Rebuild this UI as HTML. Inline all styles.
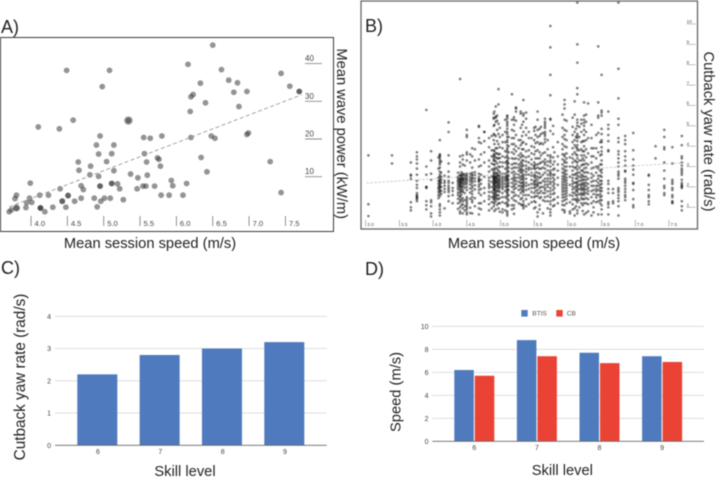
<!DOCTYPE html>
<html lang="en">
<head>
<meta charset="utf-8">
<title>Surf performance charts</title>
<style>
html,body{margin:0;padding:0;background:#fff;width:717px;height:477px;overflow:hidden}
svg{display:block;font-family:"Liberation Sans",sans-serif;filter:blur(0.4px)}
.t{fill:#222;font-size:14.7px}
.p{fill:#222;font-size:18px}
</style>
</head>
<body>
<svg id="fig" xmlns="http://www.w3.org/2000/svg" width="717" height="477" viewBox="0 0 717 477">
  <g id="panelA"></g>
  <g id="panelB"></g>
  <g id="panelC"></g>
  <g id="panelD"></g>
  <rect x="0.5" y="37.5" width="333" height="194" fill="none" stroke="#3a3a3a" stroke-width="1"/>
  <rect x="361" y="1" width="336.5" height="228" fill="none" stroke="#666" stroke-width="1.3"/>
  <text class="p" x="1" y="33">A)</text>
  <text class="p" x="365" y="32">B)</text>
  <text class="p" x="1" y="274">C)</text>
  <text class="p" x="365" y="275">D)</text>
  <text class="t" x="150" y="248" text-anchor="middle">Mean session speed (m/s)</text>
  <text class="t" transform="translate(337 133.7) rotate(90)" text-anchor="middle">Mean wave power (kW/m)</text>
  <text class="t" x="534" y="248" text-anchor="middle">Mean session speed (m/s)</text>
  <text class="t" transform="translate(704 131.5) rotate(90)" text-anchor="middle">Cutback yaw rate (rad/s)</text>
  <text class="t" x="185" y="476" text-anchor="middle">Skill level</text>
  <text class="t" transform="translate(25 377) rotate(-90)" text-anchor="middle" style="font-size:15.3px">Cutback yaw rate (rad/s)</text>
  <text class="t" x="562.3" y="475" text-anchor="middle">Skill level</text>
  <text class="t" transform="translate(400.5 392) rotate(-90)" text-anchor="middle">Speed (m/s)</text>
  <rect x="521.3" y="310" width="6.4" height="6.6" fill="#4f7abd"/>
  <text x="532.3" y="315.7" font-size="6.6" fill="#555">BTIS</text>
  <rect x="556.3" y="310" width="6.4" height="6.6" fill="#ea4335"/>
  <text x="566.7" y="315.7" font-size="6.6" fill="#555">CB</text>
</svg>
<script>
/* ---------- Panel A data ---------- */
var aSpeed = [6.5,6.16,4.49,5.08,6.62,7.44,6.72,6.84,6.33,4.98,7.56,7.69,7.69,6.97,6.79,6.23,6.2,6.4,6.86,6.19,4.58,5.34,4.1,4.39,6.99,6.97,6.48,6.53,6.2,5.8,5.55,5.64,4.95,4.9,5.14,4.93,5.11,5.56,5.74,5.76,6.34,7.29,4.65,5.04,5.59,4.82,5.78,4.66,5.14,6.42,4.81,4.93,5.37,5.6,5.47,5.93,3.99,6.14,5.11,5.11,5.19,5.95,4.95,4.95,4.69,5.54,5.58,5.7,4.4,4.72,5.22,5.46,7.44,3.8,4.12,4.24,4.51,4.51,5.79,5.9,6.09,3.78,3.98,4.69,4.87,5.01,5.09,5.27,4.43,4.43,4.6,4.96,3.94,4.01,4.91,4.3,4.48,3.93,3.8,4.13,4.13,4.13,3.73,3.7,4.19];
var aPower = [44.9,39.8,38.2,38.2,38.4,37.4,35.6,34.9,34.8,33.9,34.0,32.6,32.6,32.6,32.4,31.8,31.2,29.6,28.6,27.3,25.0,24.9,23.2,22.7,21.6,21.2,20.8,20.2,20.4,20.8,20.4,20.2,20.8,18.4,18.4,16.0,16.1,16.1,15.0,14.6,15.1,14.0,13.9,14.0,13.9,12.8,12.8,11.7,11.6,11.3,10.5,10.1,10.7,10.4,9.7,9.0,8.3,8.2,8.2,8.2,8.1,7.6,7.5,7.5,7.6,7.5,7.5,7.5,6.8,6.6,6.8,6.8,5.8,5.1,5.1,5.1,5.0,5.0,5.1,5.1,5.1,4.2,4.3,4.3,4.3,4.3,4.3,3.9,3.5,3.5,3.5,3.5,3.1,3.2,2.0,1.9,1.9,1.8,1.7,1.7,1.7,1.7,1.2,0.7,0.7];
var aBigSpeed = [5.34,3.8];
var aBigPower = [24.9,1.7];
var aTrendSpeed = [3.7,7.72];
var aTrendPower = [2.0,31.7];
var aXTicks = ["4.0","4.5","5.0","5.5","6.0","6.5","7.0","7.5"];
var aYTicks = ["10","20","30","40"];

/* ---------- Panel B data: one list of yaw rates per speed column ---------- */
var bSpeeds = [3.04,3.39,3.67,3.76,3.9,3.97,4.1,4.17,4.23,4.29,4.4,4.44,4.5,4.58,4.68,4.76,4.83,4.9,4.93,4.97,5.03,5.1,5.17,5.23,5.3,5.34,5.42,5.5,5.55,5.6,5.66,5.74,5.78,5.85,5.95,6.03,6.1,6.14,6.2,6.24,6.3,6.38,6.45,6.5,6.6,6.67,6.75,6.85,6.97,7.2,7.3,7.43,7.55,7.69,
4.08,4.12,4.37,4.42,4.47,4.55,4.62,4.71,4.87,4.91,4.95,4.99,5.07,5.12,5.2,5.27,5.32,5.38,5.46,5.52,5.58,5.63,5.7,5.8,5.92,5.98,6.07,6.12,6.17,6.22,6.27,6.35,6.42,6.48];
var bYaw = [
[3.55,1.15,0.57],
[3.55,3.15],
[3.2,2.6,2.55,2.4,1.25,1.0,0.85],
[3.7,3.5,3.35,3.15,2.9,2.6,2.3,2.1,1.95,1.7,1.6,1.55,1.5,1.45,1.4,1.3],
[5.78,3.0,2.6,2.0,2.0,1.95,1.3,1.1,0.9],
[3.75,3.3,2.65,2.35,1.35,1.25,1.05,0.7,0.55],
[4.3,3.6,3.55,3.5,3.4,3.3,3.2,3.1,2.95,2.75,2.6,2.5,2.4,2.4,2.3,2.25,2.2,2.1,2.05,2.0,1.95,1.85,1.8,1.7,1.55,1.15,1.05,0.9,0.75,0.6],
[2.55,2.3,2.2,2.05,1.9,1.75,0.95],
[5.17,4.7,3.55,3.15,2.75,2.5,2.3,2.2,2.05,1.95,1.85,1.75,1.55,1.3],
[2.2,1.95,1.8,1.6,1.2],
[7.3,3.5,3.2,3.0,2.6,2.55,2.45,2.4,2.35,2.3,2.25,2.2,2.15,2.1,2.05,2.0,1.9,1.8,1.7,1.55,1.5,1.35,1.25,1.0,0.8,0.7],
[3.55,3.35,3.1,2.65,2.6,2.5,2.45,2.4,2.35,2.3,2.2,2.1,2.0,1.85,1.75,1.45,1.3,1.15,0.95,0.7],
[4.8,4.55,4.45,3.7,3.6,3.3,2.65,2.55,2.5,2.4,2.35,2.25,2.15,2.0,1.85,1.5,1.4,1.3,1.2,1.1,1.0,0.9,0.75,0.65],
[3.9,3.5,2.95,2.7,2.6,2.55,2.45,2.4,2.3,2.2,2.05,1.95,1.8,1.65,1.5,1.35,1.25,0.7],
[5.0,4.95,4.4,4.2,3.35,3.0,2.65,2.5,2.4,2.35,2.3,2.25,2.1,2.0,1.85,1.7,1.2,0.95,0.65],
[4.7,4.7,4.25,3.7,3.2,2.5,1.95,1.7,1.3],
[4.4,3.95,3.3,3.0,2.75,2.45,2.3,2.15,2.05,1.95,1.75,1.55,1.4,1.15,0.85],
[5.6,5.4,5.35,5.0,4.6,4.3,3.8,3.6,3.5,3.4,3.3,3.1,2.9,2.75,2.65,2.55,2.5,2.45,2.4,2.35,2.3,2.2,2.15,2.1,2.0,1.9,1.85,1.7,1.6,1.5,1.4,1.25,1.05],
[5.95,5.45,5.4,5.2,4.5,3.9,3.65,3.45,3.25,2.95,2.7,2.6,2.5,2.45,2.4,2.3,2.25,2.2,2.05,1.95,1.85,1.75,1.65,1.55,1.45,1.3,0.9],
[6.8,6.05,5.1,4.6,4.1,3.6,3.4,3.0,2.8,2.6,2.55,2.4,2.3,2.2,2.1,2.0,1.9,1.8,1.6,1.4,1.2,0.95],
[4.55,4.2,3.9,3.5,3.2,3.0,2.65,2.5,2.4,2.3,2.2,2.1,2.0,1.9,1.7,1.5,1.25,0.9,0.75],
[5.5,5.45,5.35,5.2,5.1,5.0,4.85,4.7,4.6,4.45,4.3,4.2,4.05,3.9,3.8,3.7,3.55,3.45,3.3,3.25,3.2,3.1,3.0,2.9,2.8,2.7,2.6,2.55,2.5,2.45,2.4,2.35,2.3,2.2,2.1,2.05,2.0,1.9,1.85,1.75,1.7,1.6,1.5,1.4,1.25,1.15,1.05,0.8,0.7,0.6],
[6.55,5.3,4.8,4.4,4.1,3.7,3.4,3.1,2.9,2.7,2.4,2.2,2.0,1.75,1.45,1.1,0.9],
[5.9,5.85,5.7,5.25,4.55,4.0,3.75,3.4,3.15,2.95,2.65,2.45,2.3,2.15,1.95,1.6,1.3],
[5.7,5.6,4.9,4.3,4.05,3.65,3.45,3.2,3.05,2.9,2.8,2.7,2.5,2.35,2.2,2.05,1.9,1.7,1.4,1.15],
[6.27,5.6,5.5,5.2,4.7,4.2,3.85,3.5,3.3,3.05,2.8,2.6,2.5,2.4,2.3,2.2,2.1,2.05,1.95,1.85,1.75,1.6,1.3,1.15,1.05,0.95],
[4.7,4.4,3.8,3.5,3.2,2.95,2.85,2.6,2.1,1.9,1.6,1.15],
[4.9,4.75,4.3,3.95,3.6,3.2,3.05,3.0,2.9,2.6,2.5,2.3,2.2,2.1,1.95,1.7,1.5,1.3,0.95],
[5.7,5.3,4.8,4.45,4.2,3.8,3.4,3.1,2.95,2.7,2.5,2.35,2.2,2.1,2.05,1.85,1.7,1.55,0.75,0.55],
[4.95,4.6,4.15,3.55,3.2,2.9,2.5,2.2,2.0,1.8,1.5],
[5.35,5.2,5.1,5.0,4.9,4.7,4.6,4.5,4.35,4.2,3.7,3.35,3.2,3.1,2.9,2.7,2.4,2.25,2.1,1.95,1.85,1.7,1.5,1.3],
[9.9,8.85,7.5,6.5,5.35,5.3,4.75,3.55,3.45,3.3,3.2,3.0,2.8,2.7,2.65,2.55,2.4,2.25,2.15,1.95,1.8,1.65,1.5,1.3,1.15,0.9,0.75,0.6],
[5.0,4.6,3.95,3.45,3.1,2.85,2.6,2.45,2.25,2.05,1.85,1.65,1.35,1.05],
[4.2,3.5,3.1,2.8,2.45,2.1,1.5,1.2],
[6.27,6.05,5.85,5.3,4.8,4.55,4.35,4.0,3.6,3.5,3.3,3.2,3.0,2.85,2.75,2.65,2.55,2.45,2.35,2.25,2.1,1.95,1.8,1.65,1.5,1.35,1.1,0.85,0.75],
[3.45,3.0,2.5,2.1,1.6,1.25,0.8,0.7],
[6.2,5.55,4.7,4.3,4.05,3.7,3.3,2.95,2.6,2.2,1.95,1.7,1.4,0.95,0.6],
[11.05,9.0,8.1,6.85,6.55,5.3,5.15,5.0,4.6,4.5,4.4,4.25,4.05,3.9,3.8,3.55,3.4,3.2,3.05,2.85,2.7,2.55,2.4,2.25,2.15,2.05,1.95,1.85,1.75,1.6,1.45,1.35,1.25,0.85,0.7],
[5.3,5.1,4.7,4.2,3.85,3.55,3.3,3.05,2.8,2.6,2.45,2.3,2.15,2.05,1.95,1.85,1.7,1.6,1.45,1.2],
[6.15,5.5,5.3,5.15,5.0,4.8,4.55,4.25,4.0,3.75,3.55,3.3,3.1,2.9,2.7,2.5,2.35,2.2,2.1,2.0,1.9,1.8,1.7,1.6,1.4,1.2,0.65],
[6.1,4.4,3.65,3.1,2.7,2.4,2.15,1.95,1.8,1.65,1.4,1.15,0.8],
[3.9,3.5,2.95,2.55,2.3,2.05,1.85,1.65,1.3,1.0,0.75],
[8.9,6.15,5.5,5.4,4.65,3.7,3.0,2.9,2.55,2.4,2.2,2.05,1.85,1.6,1.3,0.65],
[7.5,5.75,5.65,5.5,4.85,4.6,4.3,4.2,3.95,3.75,3.6,3.3,3.1,2.85,2.7,2.5,2.3,2.15,1.95,1.8,1.55,1.35,1.1,0.9,0.65],
[5.7,5.05,4.85,4.55,4.25,3.8,3.75,2.3,2.15,1.9,1.7,1.25,1.15,1.0,0.65],
[1.9,1.7,1.3,1.2],
[11.05,7.8,6.35,5.35,5.05,4.4,4.2,3.75,3.6,3.4,3.2,3.0,2.75,2.65,2.55,2.4,1.95,1.85,1.75,1.6,1.45,1.3,1.05,0.6],
[4.5,4.3,4.1,3.75,3.5,3.3,3.05,2.8,2.75,2.4,2.3,2.2,2.05,1.9,1.75,1.6,1.5,1.35],
[4.65,3.8,3.35,3.05,2.85,2.6,2.2,2.15,1.85,1.4,1.1,1.0],
[2.6,2.55,2.1,1.85,1.6,1.5,1.3,1.15],
[4.0,3.4],
[4.8,4.45,3.95,3.85,3.2,2.8,2.4,2.05,1.95,1.7,1.6],
[3.95,3.15,2.35,2.25,2.15,1.95,1.85,1.6,1.5,1.3,1.25,1.2],
[4.5,4.05,3.5,3.4,3.2,3.05,2.9,2.8,2.7,2.6,2.35,2.2,2.1,2.05,2.0,1.95,1.3,1.05,0.85],
[3.45,2.9,2.45,2.3,2.15,2.0,1.9,1.75,1.6,1.45],
[3.25,2.7,2.5,2.35,2.2,2.0,1.8,1.65],
[2.7,2.5,2.42,2.33,2.27,2.18,2.08,1.98,1.88,1.72,1.6,1.42,1.2,0.92],
[2.72,2.57,2.48,2.38,2.28,2.18,2.02,1.92,1.78,1.62,1.38,1.1],
[3.05,2.62,2.52,2.42,2.32,2.22,2.12,1.96,1.7,1.35,1.05,0.85],
[3.6,3.2,2.65,2.5,2.37,2.27,2.12,1.92,1.72,1.42,0.98,0.72],
[3.85,3.3,2.72,2.58,2.42,2.28,2.08,1.88,1.45,1.05],
[4.15,3.6,3.05,2.6,2.35,2.15,1.9,1.6,1.2,0.9],
[4.5,3.8,3.5,3.15,2.85,2.5,2.25,2.0,1.75,1.5,1.25,0.95],
[5.7,5.05,4.55,4.1,3.75,3.55,3.3,3.1,2.85,2.62,2.52,2.42,2.32,2.22,2.12,2.02,1.92,1.82,1.68,1.52,1.38,1.18,0.82],
[5.5,5.25,4.8,4.25,3.9,3.65,3.4,3.15,2.88,2.68,2.58,2.48,2.38,2.28,2.18,2.08,1.98,1.78,1.58,1.42,1.12],
[4.9,4.45,3.95,3.62,3.42,3.22,2.98,2.72,2.58,2.46,2.36,2.26,2.16,2.06,1.96,1.76,1.46,1.2,0.78],
[5.3,4.7,4.2,3.75,3.45,3.2,2.9,2.65,2.5,2.4,2.3,2.15,2.0,1.8,1.5,1.2,0.85],
[4.45,4.0,3.7,3.4,3.15,2.95,2.75,2.55,2.35,2.2,2.05,1.85,1.6,1.35,1.1],
[5.42,5.3,5.05,4.75,4.4,4.1,3.85,3.62,3.38,3.15,2.95,2.75,2.6,2.48,2.38,2.28,2.12,2.02,1.88,1.72,1.55,1.35,1.1,0.95,0.68],
[4.3,3.9,3.55,3.35,3.1,2.95,2.8,2.6,2.45,2.25,2.05,1.85,1.55,1.2],
[5.05,4.5,4.15,3.85,3.55,3.3,3.15,3.0,2.85,2.7,2.55,2.4,2.2,2.0,1.8,1.45,1.1],
[5.65,5.35,4.9,4.55,4.1,3.75,3.45,3.25,3.05,2.9,2.75,2.6,2.4,2.2,2.05,1.85,1.6,1.4,1.05],
[4.4,4.0,3.65,3.35,3.1,2.9,2.7,2.55,2.35,2.15,1.95,1.75,1.5,1.25],
[4.95,4.55,4.15,3.75,3.4,3.1,2.9,2.72,2.55,2.42,2.28,2.12,1.98,1.8,1.55,1.25,1.0],
[4.85,4.5,4.1,3.7,3.4,3.15,2.9,2.65,2.45,2.2,1.95,1.7,1.45,1.1,0.9],
[4.65,4.1,3.65,3.25,2.95,2.6,2.3,2.0,1.7,1.35,0.7],
[4.3,3.85,3.55,3.25,3.05,2.8,2.6,2.42,2.28,2.12,2.0,1.78,1.55,1.3,0.95],
[3.7,3.25,2.9,2.6,2.35,2.15,1.95,1.7,1.4,1.1],
[5.55,4.9,4.45,4.1,3.85,3.6,3.35,3.1,2.9,2.7,2.52,2.38,2.24,2.12,2.0,1.88,1.76,1.62,1.48,1.3,1.12,0.88],
[5.25,4.75,4.3,3.95,3.65,3.4,3.2,3.0,2.8,2.62,2.46,2.32,2.18,2.06,1.94,1.82,1.7,1.56,1.4,1.2],
[5.4,4.95,4.55,4.2,3.9,3.6,3.4,3.2,3.0,2.8,2.6,2.44,2.3,2.16,2.02,1.88,1.72,1.56,1.38,1.15,0.9],
[4.85,4.45,3.95,3.6,3.25,2.95,2.65,2.42,2.22,2.02,1.82,1.6,1.35,1.05],
[4.95,4.45,3.8,3.3,2.95,2.7,2.5,2.3,2.1,1.9,1.65,1.35,1.0],
[4.25,3.75,3.4,3.1,2.8,2.55,2.35,2.15,1.9,1.65,1.4,1.1,0.82],
[5.55,5.2,4.7,4.3,3.85,3.45,3.15,2.95,2.72,2.5,2.35,2.2,2.05,1.88,1.7,1.45,1.2,0.72],
[5.05,4.4,3.9,3.5,3.2,2.9,2.65,2.45,2.25,2.05,1.8,1.5,1.2,0.6],
[4.55,3.9,3.4,3.0,2.7,2.3,2.05,1.9,1.78,1.62,1.48,1.25],
[4.2,3.55,3.1,2.8,2.55,2.3,2.1,1.95,1.8,1.65,1.5,1.35,1.2]
];
var bTrendSpeed = [3.01,7.74];
var bTrendYaw = [2.19,3.19];
var bXTicks = ["3.0","3.5","4.0","4.5","5.0","5.5","6.0","6.5","7.0","7.5"];
var bYTicks = ["1","2","3","4","5","6","7","8","9","10"];

/* ---------- Panel C data ---------- */
var cLevels = ["6","7","8","9"];
var cYaw = [2.2,2.8,3.0,3.2];
var cYTicks = ["0","1","2","3","4"];

/* ---------- Panel D data ---------- */
var dLevels = ["6","7","8","9"];
var dBtis = [6.2,8.8,7.7,7.4];
var dCb = [5.7,7.4,6.8,6.9];
var dYTicks = ["0","2","4","6","8","10"];

/* ---------- Axis functions ---------- */
function xA(v){return 31+(v-4)*72.7;}
function yA(v){return 176.7-(v-10)*3.77;}
function xB(v){return 365.7+(v-3)*67.4;}
function yB(v){return 207.3-(v-1)*20.37;}
function xC(i){return 97.3+i*62.33;}
function yC(v){return 445.3-v*32.25;}
function xD(i){return 474.3+i*62.6;}
function yD(v){return 441.3-v*11.5;}

var NS='http://www.w3.org/2000/svg';
function mk(parent,tag,attrs,txt){
  var el=document.createElementNS(NS,tag);
  for(var k in attrs){el.setAttribute(k,attrs[k]);}
  if(txt!==undefined){el.textContent=txt;}
  parent.appendChild(el);
  return el;
}
var pA=document.getElementById('panelA'),pB=document.getElementById('panelB'),pC=document.getElementById('panelC'),pD=document.getElementById('panelD');
var el;

/* Panel A */
aXTicks.forEach(function(t){
  var v=parseFloat(t);
  el=mk(pA,'line',{x1:xA(v),x2:xA(v),y1:216,y2:226,stroke:'#777','stroke-width':0.8});
  
  
  el=mk(pA,'text',{x:xA(v)+3.5,y:226,'font-size':7.6,fill:'#444'},t);
  
  
});
aYTicks.forEach(function(t){
  var v=parseFloat(t);
  el=mk(pA,'line',{x1:305,x2:322,y1:yA(v),y2:yA(v),stroke:'#888','stroke-width':0.9});
  
  
  el=mk(pA,'text',{x:305,y:yA(v)-2.5,'font-size':8,fill:'#444'},t);
  
  
});
aSpeed.forEach(function(s,i){
  el=mk(pA,'circle',{cx:xA(s),cy:yA(aPower[i]),r:2.9,fill:'#3c3c3c','fill-opacity':0.55});
  
  
});
aBigSpeed.forEach(function(s,i){
  el=mk(pA,'circle',{cx:xA(s),cy:yA(aBigPower[i]),r:i===0?4.2:3.6,fill:'#3c3c3c','fill-opacity':0.5});
  
  
});
el=mk(pA,'line',{x1:xA(aTrendSpeed[0]),y1:yA(aTrendPower[0]),x2:xA(aTrendSpeed[1]),y2:yA(aTrendPower[1]),stroke:'#999','stroke-width':0.9,'stroke-dasharray':'4 2.5'});



/* Panel B */
bXTicks.forEach(function(t){
  var v=parseFloat(t);
  el=mk(pB,'line',{x1:xB(v),x2:xB(v),y1:220,y2:226.5,stroke:'#888','stroke-width':0.6});
  
  
  el=mk(pB,'text',{x:xB(v)+1.5,y:226,'font-size':4.8,fill:'#555'},t);
  
  
});
bYTicks.forEach(function(t){
  var v=parseFloat(t);
  el=mk(pB,'line',{x1:686.7,x2:695.7,y1:yB(v),y2:yB(v),stroke:'#999','stroke-width':0.6});
  
  
  el=mk(pB,'text',{x:686.5,y:yB(v)-0.8,'font-size':4.8,fill:'#555'},t);
  
  
});
bSpeeds.forEach(function(s,c){
  bYaw[c].forEach(function(y){
    el=mk(pB,'circle',{cx:xB(s),cy:yB(y),r:1.35,fill:'#111','fill-opacity':0.52});
    
    
  });
});
el=mk(pB,'line',{x1:xB(bTrendSpeed[0]),y1:yB(bTrendYaw[0]),x2:xB(bTrendSpeed[1]),y2:yB(bTrendYaw[1]),stroke:'#bbb','stroke-width':0.7,'stroke-dasharray':'2.5 1.5'});



/* Panel C */
cYTicks.forEach(function(t){
  var v=parseFloat(t);
  if(v>0){
    el=mk(pC,'line',{x1:55,x2:326.7,y1:yC(v),y2:yC(v),stroke:'#d9d9d9','stroke-width':0.8});
    
    
  }
  el=mk(pC,'text',{x:51,y:yC(v)+2.6,'font-size':7,fill:'#444','text-anchor':'end'},t);
  
  
});
cYaw.forEach(function(v,i){
  el=mk(pC,'rect',{x:xC(i)-20,y:yC(v),width:40,height:yC(0)-yC(v),fill:'#4f7abd'});
  
  
  el=mk(pC,'text',{x:xC(i)+0.7,y:454,'font-size':7,fill:'#444','text-anchor':'middle'},cLevels[i]);
  
  
});
el=mk(pC,'line',{x1:55,x2:326.7,y1:yC(0),y2:yC(0),stroke:'#666','stroke-width':0.9});



/* Panel D */
dYTicks.forEach(function(t){
  var v=parseFloat(t);
  if(v>0){
    el=mk(pD,'line',{x1:432.3,x2:704,y1:yD(v),y2:yD(v),stroke:'#d9d9d9','stroke-width':0.8});
    
    
  }
  el=mk(pD,'text',{x:428.5,y:yD(v)+2.6,'font-size':7,fill:'#444','text-anchor':'end'},t);
  
  
});
dLevels.forEach(function(l,i){
  el=mk(pD,'rect',{x:xD(i)-20,y:yD(dBtis[i]),width:19.5,height:yD(0)-yD(dBtis[i]),fill:'#4f7abd'});
  
  
  el=mk(pD,'rect',{x:xD(i)+0.5,y:yD(dCb[i]),width:19.5,height:yD(0)-yD(dCb[i]),fill:'#ea4335'});
  
  
  el=mk(pD,'text',{x:xD(i),y:450,'font-size':7,fill:'#444','text-anchor':'middle'},l);
  
  
});
el=mk(pD,'line',{x1:432.3,x2:704,y1:yD(0),y2:yD(0),stroke:'#666','stroke-width':0.9});


</script>
</body>
</html>
